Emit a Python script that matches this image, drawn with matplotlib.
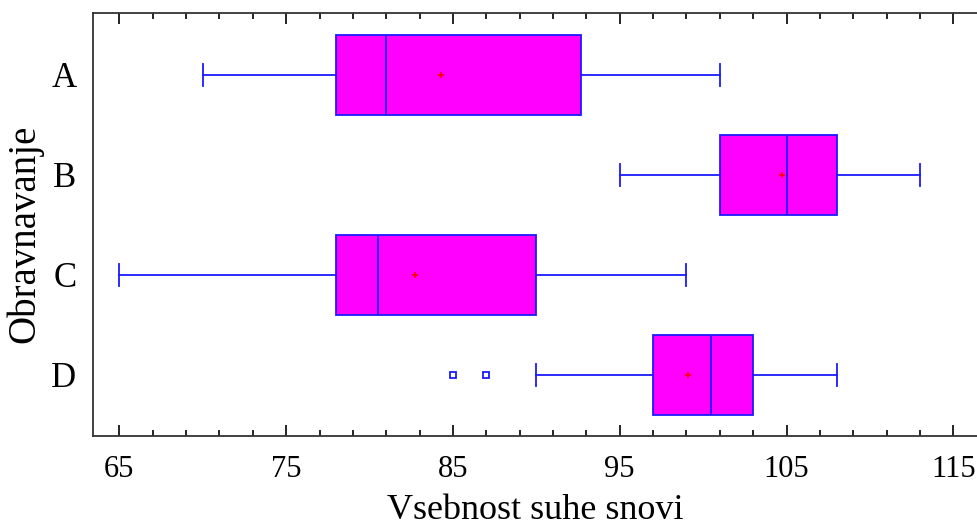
import numpy as np
import matplotlib.pyplot as plt
from matplotlib.ticker import FixedLocator

# groups and per-group box statistics
groups = ["A", "B", "C", "D"]
q1 = [78.0, 101.0, 78.0, 97.0]
med = [81.0, 105.0, 80.5, 100.5]
q3 = [92.7, 108.0, 90.0, 103.0]
whislo = [70.0, 95.0, 65.0, 90.0]
whishi = [101.0, 113.0, 99.0, 108.0]
means = [84.3, 104.7, 82.7, 99.1]
fliers = [[], [], [], [85.0, 87.0]]
xticks = [65, 75, 85, 95, 105, 115]

plt.rcParams['font.family'] = ['Liberation Serif', 'DejaVu Serif']

stats = []
for i, g in enumerate(groups):
    stats.append(dict(label=g, q1=q1[i], med=med[i], q3=q3[i],
                      whislo=whislo[i], whishi=whishi[i],
                      mean=means[i], fliers=np.array(fliers[i])))

fig = plt.figure(figsize=(9.77, 5.27), dpi=100)
ax = fig.add_axes([93/977, 1 - 436/527, 1 - 93/977, (436 - 13)/527])

blue = '#1a1aff'
lw = 1.3
ax.bxp(stats, positions=np.arange(len(groups)), orientation='horizontal',
       widths=0.8, patch_artist=True, showmeans=True, showfliers=True,
       boxprops=dict(facecolor='#ff00ff', edgecolor=blue, linewidth=lw),
       medianprops=dict(color=blue, linewidth=lw),
       whiskerprops=dict(color=blue, linewidth=lw),
       capprops=dict(color=blue, linewidth=lw),
       capwidths=0.22,
       meanprops=dict(marker='+', markeredgecolor='red', markersize=4,
                      markeredgewidth=1.2),
       flierprops=dict(marker='s', markerfacecolor='none',
                       markeredgecolor=blue, markersize=4.5,
                       markeredgewidth=1.3))

ax.set_xlim(63.42, 116.42)
ax.set_ylim(3.61, -0.62)
ax.set_yticks(np.arange(len(groups)))
ax.set_yticklabels(groups)

ax.xaxis.set_major_locator(FixedLocator(xticks))
ax.xaxis.set_minor_locator(FixedLocator(np.arange(65, 117, 2)))
ax.tick_params(axis='x', which='both', direction='in', top=True,
               labelsize=22, pad=14, width=1.2)
ax.tick_params(axis='x', which='major', length=8)
ax.tick_params(axis='x', which='minor', length=4)
ax.tick_params(axis='y', length=0, labelsize=25, pad=12)

ax.spines['right'].set_visible(False)
for s in ['left', 'top', 'bottom']:
    ax.spines[s].set_linewidth(1.3)
    ax.spines[s].set_color('#333333')

ax.set_xlabel('Vsebnost suhe snovi', fontsize=26, labelpad=7)
fig.text(25/977, 1 - 234/527, 'Obravnavanje', fontsize=28,
         rotation=90, ha='center', va='center')

fig.savefig('out.png', dpi=100)
